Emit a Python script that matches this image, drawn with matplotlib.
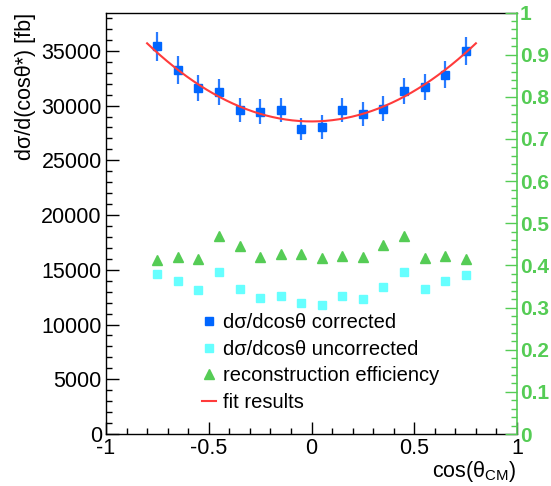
# Differential cross section vs cos(theta_CM), corrected / uncorrected,
# with reconstruction efficiency on a second axis and a parabolic fit.

import matplotlib
matplotlib.use('Agg')
import matplotlib.pyplot as plt
from matplotlib.lines import Line2D
import numpy as np

plt.rcParams['font.family'] = ['Liberation Sans', 'DejaVu Sans']
plt.rcParams['mathtext.default'] = 'regular'

# bin centres in cos(theta_CM)
cos_bins = [-0.75, -0.65, -0.55, -0.45, -0.35, -0.25, -0.15, -0.05,
            0.05, 0.15, 0.25, 0.35, 0.45, 0.55, 0.65, 0.75]

# d sigma / d cos theta [fb]
corrected = [35400, 33260, 31610, 31250, 29600, 29450, 29600, 27860,
             28050, 29600, 29240, 29720, 31340, 31700, 32800, 34950]
corrected_err = [1310, 1250, 1190, 1170, 1100, 1125, 1115, 1030,
                 1070, 1115, 1125, 1125, 1170, 1190, 1235, 1280]
uncorrected = [14600, 13960, 13140, 14790, 13230, 12410, 12560, 11950,
               11770, 12560, 12320, 13420, 14790, 13230, 13960, 14510]

# reconstruction efficiency (right axis)
efficiency = [0.412, 0.419, 0.414, 0.470, 0.447, 0.421, 0.426, 0.426,
              0.418, 0.423, 0.419, 0.449, 0.469, 0.417, 0.423, 0.416]

# fit: a + b * cos^2, drawn over [-0.8, 0.8]
fit_a = 28550
fit_b = 11150
fit_range = (-0.8, 0.8)

legend_labels = [u'd\u03c3/dcos\u03b8 corrected',
                 u'd\u03c3/dcos\u03b8 uncorrected',
                 'reconstruction efficiency',
                 'fit results']

blue = '#0066ff'
cyan = '#66ffff'
green = '#55cc55'
red = '#ff3b3b'

fig = plt.figure(figsize=(5.51, 4.86), dpi=100)
ax = fig.add_axes([106 / 551, 52 / 486, 411 / 551, 421.5 / 486])
ax2 = ax.twinx()

# left axis data
ax.errorbar(cos_bins, corrected, yerr=corrected_err, fmt='s', color=blue,
            ecolor='#2a7bff', elinewidth=1.6, capsize=0, markersize=5.2,
            zorder=3)
ax.plot(cos_bins, uncorrected, 's', color=cyan, markersize=5.2, zorder=3)
xf = np.linspace(fit_range[0], fit_range[1], 200)
ax.plot(xf, fit_a + fit_b * xf ** 2, '-', color=red, lw=1.5, zorder=4)

# right axis data
ax2.plot(cos_bins, efficiency, '^', color=green, markersize=7.5)

ax.set_xlim(-1, 1)
ax.set_ylim(0, 38500)
ax2.set_ylim(0, 1)

ax.set_xticks([-1, -0.5, 0, 0.5, 1])
ax.set_xticklabels(['-1', '-0.5', '0', '0.5', '1'])
ax.set_xticks(np.arange(-1, 1.001, 0.1), minor=True)
ax.set_yticks(np.arange(0, 35001, 5000))
ax.set_yticks(np.arange(0, 38501, 1000), minor=True)
ax2.set_yticks(np.arange(0, 1.001, 0.1))
ax2.set_yticklabels(['0', '0.1', '0.2', '0.3', '0.4', '0.5', '0.6', '0.7',
                     '0.8', '0.9', '1'])
ax2.set_yticks(np.arange(0, 1.001, 0.02), minor=True)

ax.tick_params(axis='both', which='major', direction='in', length=9,
               width=1, labelsize=15.5)
ax.tick_params(axis='both', which='minor', direction='in', length=4.5,
               width=1)
ax.tick_params(axis='y', which='both', left=True, right=False, pad=3)
ax.tick_params(axis='x', which='both', bottom=True, top=False, pad=3)
ax2.tick_params(axis='y', which='major', direction='in', length=9, width=1,
                colors=green, labelsize=15, pad=2)
ax2.tick_params(axis='y', which='minor', direction='in', length=4.5,
                width=1, colors=green)
for lab in ax2.get_yticklabels():
    lab.set_fontweight('bold')

for sp in ['top', 'left', 'bottom']:
    ax.spines[sp].set_linewidth(1)
ax.spines['right'].set_visible(False)
ax2.spines['right'].set_color(green)
ax2.spines['right'].set_linewidth(1.2)
for sp in ['top', 'left', 'bottom']:
    ax2.spines[sp].set_visible(False)

ax.set_ylabel(u'd\u03c3/d(cos\u03b8*) [fb]', fontsize=15.5, loc='top',
              labelpad=4)
ax.set_xlabel(u'cos(\u03b8$_{CM}$)', fontsize=15.5, loc='right',
              labelpad=0)

# legend proxies (no error bar drawn on the legend marker)
handles = [Line2D([], [], ls='none', marker='s', color=blue, markersize=5.2),
           Line2D([], [], ls='none', marker='s', color=cyan, markersize=5.2),
           Line2D([], [], ls='none', marker='^', color=green, markersize=7.5),
           Line2D([], [], ls='-', color=red, lw=1.5)]
ax2.legend(handles, legend_labels, loc='upper left', frameon=False,
           fontsize=14.5, bbox_to_anchor=(202 / 551, 1 - 313 / 486),
           bbox_transform=fig.transFigure, handlelength=0.7,
           handletextpad=0.35, labelspacing=0.38, borderpad=0,
           borderaxespad=0)

fig.savefig('out.png', dpi=100)
